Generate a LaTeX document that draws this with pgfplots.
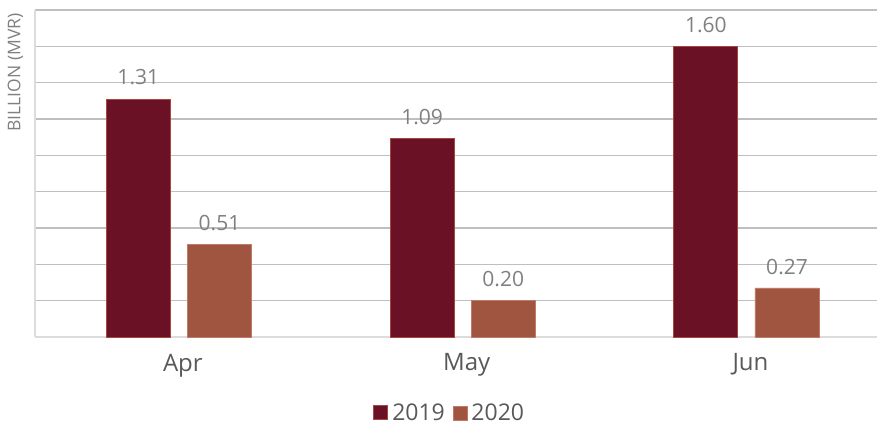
\documentclass[border=0pt]{standalone}
\usepackage{pgfplots}
\pgfplotsset{compat=1.18}
\usepackage{fontspec}
\setmainfont{Open Sans}
\definecolor{cA}{HTML}{6B1126}
\definecolor{cB}{HTML}{A05541}
\definecolor{eA}{HTML}{A3473F}
\definecolor{eB}{HTML}{C07A68}
\definecolor{grid}{HTML}{DCDCDC}
\definecolor{txt}{HTML}{808080}
\definecolor{txtd}{HTML}{595959}
\begin{document}
\begin{tikzpicture}
\begin{axis}[
  name=ax, at={(0,0)}, anchor=south west,
  scale only axis, width=842pt, height=327pt,
  ybar, bar width=0.226,
  xmin=-0.507, xmax=2.46, ymin=0, ymax=1.8,
  ytick={0,0.2,...,1.8}, yticklabels={},
  xtick={0,1,2}, xticklabels={Apr,May,Jun},
  xtick style={draw=none}, ytick style={draw=none},
  axis x line*=bottom, axis y line*=left,
  axis line style={grid, line width=1.8pt},
  xmajorgrids=false, ymajorgrids=true, grid style={grid, line width=1.6pt},
  xticklabel style={font=\fontsize{24}{28}\selectfont, text=txtd, yshift=-9pt, xshift=4pt},
  ylabel={BILLION (MVR)},
  ylabel style={at={(axis description cs:-0.010,1)}, anchor=south east, font=\fontsize{17.5}{20}\selectfont, text=txt},
  /pgf/number format/assume math mode=true,
  nodes near coords,
  nodes near coords style={font=\fontsize{21}{25}\selectfont, text=txt, anchor=south, yshift=10pt, /pgf/number format/fixed, /pgf/number format/precision=2, /pgf/number format/fixed zerofill, /pgf/number format/assume math mode=true},
  point meta=explicit,
  legend style={draw=none, at={(0.4925,-0.232)}, anchor=center, legend columns=-1, font=\fontsize{23}{26}\selectfont, text=txtd, nodes={inner xsep=2pt}, /tikz/every odd column/.append style={column sep=2pt}, /tikz/every even column/.append style={column sep=6pt}},
  legend image code/.code={\draw[#1] (0pt,-7pt) rectangle (14pt,7pt);},
]
\addplot[fill=cA, draw=eA, line width=1pt, bar shift=-0.143] coordinates {(0,1.31) [1.31] (1,1.09) [1.09] (2,1.60) [1.60]};
\addplot[fill=cB, draw=eB, line width=0.6pt, bar shift=0.143] coordinates {(0,0.51) [0.51] (1,0.20) [0.20] (2,0.27) [0.27]};
\legend{2019,2020}
\end{axis}
\pgfresetboundingbox
\path[use as bounding box] (-35pt,-88pt) rectangle (842pt,337pt);
\end{tikzpicture}
\end{document}
